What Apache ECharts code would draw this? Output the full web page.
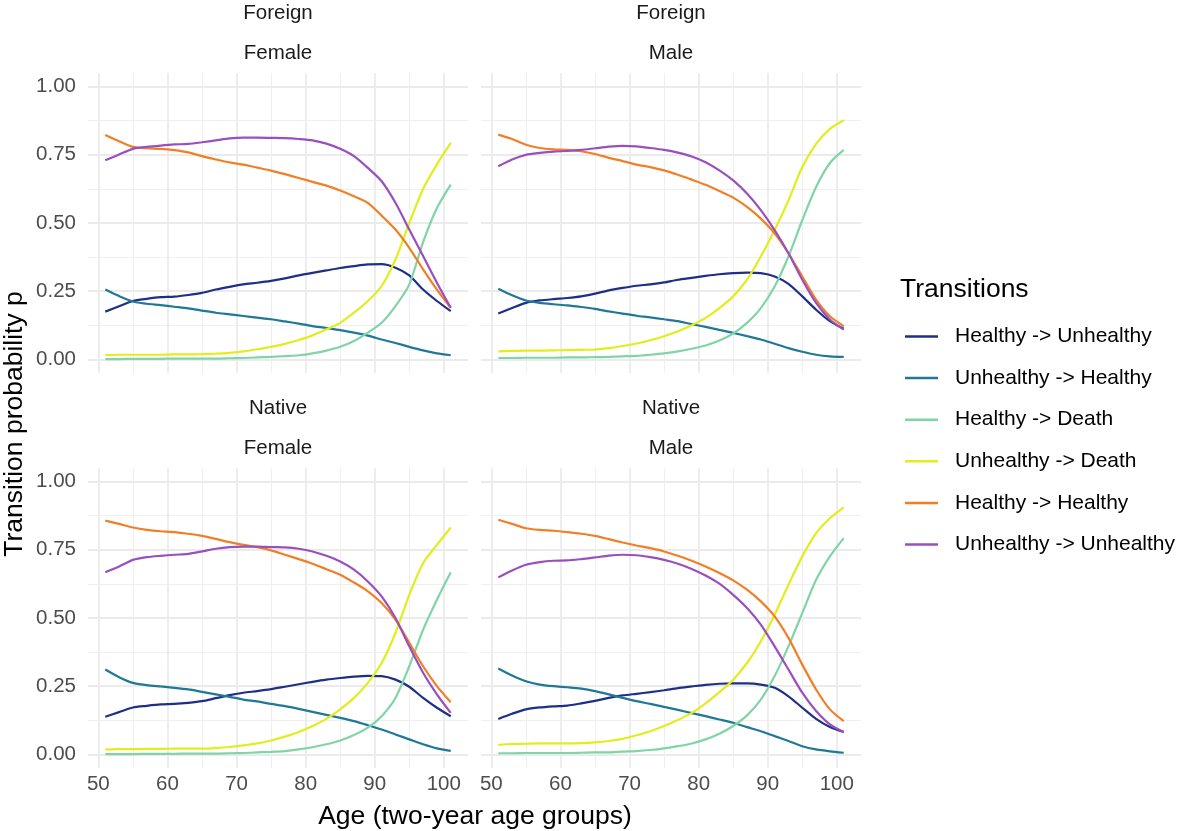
<!DOCTYPE html>
<html>
<head>
    <meta charset="utf-8">
    <title>Transition probabilities by age</title>
    <script src="https://cdn.jsdelivr.net/npm/echarts@6/dist/echarts.min.js"></script>
    <style>
        html, body { margin: 0; padding: 0; background: #fff; }
        #chart-container { width: 1178px; height: 831px; }
    </style>
</head>
<body>
<div id="chart-container"></div>

<script>
    // ages (two-year age groups)
    var ages = [51, 53, 55, 57, 59, 61, 63, 65, 67, 69, 71, 73, 75, 77, 79, 81, 83, 85, 87, 89, 91, 93, 95, 97, 99, 101];

    var transitions = ['Healthy -> Unhealthy', 'Unhealthy -> Healthy', 'Healthy -> Death',
                       'Unhealthy -> Death', 'Healthy -> Healthy', 'Unhealthy -> Unhealthy'];
    var lineColors = ['#1e2f86', '#1f7896', '#80d4a8', '#e2ee1c', '#f07f26', '#9a4fbf'];

    var xMajor = [50, 60, 70, 80, 90, 100];
    var xMinor = [55, 65, 75, 85, 95];
    var yMajor = [0, 0.25, 0.5, 0.75, 1];
    var yMinor = [0.125, 0.375, 0.625, 0.875];

    // Foreign / Female
    var foreignFemaleHU = [0.175,0.195,0.214,0.222,0.228,0.230,0.236,0.244,0.256,0.266,0.275,0.281,0.288,0.297,0.308,0.317,0.326,0.335,0.342,0.348,0.349,0.336,0.308,0.256,0.214,0.177];
    var foreignFemaleUH = [0.256,0.232,0.212,0.204,0.199,0.193,0.187,0.179,0.171,0.165,0.159,0.153,0.147,0.139,0.131,0.122,0.115,0.107,0.098,0.087,0.073,0.060,0.046,0.033,0.022,0.015];
    var foreignFemaleHD = [0.001,0.001,0.002,0.002,0.002,0.003,0.003,0.003,0.003,0.004,0.005,0.007,0.009,0.012,0.015,0.022,0.032,0.046,0.067,0.098,0.134,0.195,0.275,0.430,0.555,0.641];
    var foreignFemaleUD = [0.016,0.017,0.017,0.017,0.017,0.018,0.018,0.019,0.021,0.024,0.029,0.037,0.046,0.057,0.071,0.088,0.110,0.134,0.171,0.214,0.269,0.366,0.500,0.625,0.715,0.794];
    var foreignFemaleHH = [0.823,0.800,0.779,0.774,0.772,0.767,0.759,0.745,0.733,0.722,0.714,0.703,0.692,0.679,0.665,0.651,0.637,0.619,0.598,0.574,0.527,0.476,0.409,0.330,0.256,0.189];
    var foreignFemaleUU = [0.730,0.751,0.772,0.779,0.784,0.788,0.790,0.796,0.803,0.810,0.813,0.813,0.812,0.811,0.808,0.803,0.791,0.772,0.745,0.702,0.653,0.574,0.476,0.379,0.281,0.189];

    // Foreign / Male
    var foreignMaleHU = [0.168,0.188,0.207,0.216,0.221,0.225,0.231,0.241,0.253,0.262,0.270,0.275,0.282,0.292,0.299,0.306,0.312,0.316,0.318,0.316,0.304,0.277,0.231,0.182,0.140,0.112];
    var foreignMaleUH = [0.259,0.235,0.216,0.207,0.202,0.198,0.192,0.185,0.176,0.168,0.160,0.154,0.147,0.140,0.129,0.119,0.108,0.097,0.085,0.073,0.057,0.041,0.028,0.017,0.011,0.009];
    var foreignMaleHD = [0.005,0.005,0.006,0.006,0.006,0.007,0.007,0.008,0.009,0.011,0.013,0.017,0.022,0.029,0.039,0.051,0.069,0.095,0.134,0.188,0.267,0.377,0.510,0.632,0.720,0.768];
    var foreignMaleUD = [0.029,0.031,0.032,0.032,0.033,0.034,0.035,0.036,0.041,0.049,0.058,0.070,0.085,0.103,0.125,0.152,0.188,0.231,0.292,0.377,0.474,0.583,0.705,0.790,0.845,0.877];
    var foreignMaleHH = [0.824,0.808,0.787,0.775,0.770,0.768,0.763,0.753,0.739,0.727,0.714,0.705,0.693,0.677,0.659,0.640,0.617,0.593,0.559,0.516,0.462,0.389,0.304,0.219,0.158,0.122];
    var foreignMaleUU = [0.708,0.733,0.750,0.757,0.762,0.764,0.768,0.774,0.780,0.783,0.781,0.775,0.768,0.758,0.744,0.723,0.693,0.656,0.608,0.547,0.474,0.389,0.292,0.207,0.146,0.109];

    // Native / Female
    var nativeFemaleHU = [0.138,0.155,0.172,0.178,0.183,0.185,0.189,0.195,0.206,0.217,0.226,0.232,0.239,0.248,0.257,0.266,0.274,0.280,0.285,0.288,0.287,0.274,0.248,0.207,0.171,0.140];
    var nativeFemaleUH = [0.311,0.283,0.262,0.254,0.249,0.244,0.238,0.229,0.220,0.211,0.201,0.194,0.185,0.177,0.167,0.156,0.145,0.134,0.122,0.107,0.091,0.073,0.055,0.037,0.022,0.013];
    var nativeFemaleHD = [0.001,0.001,0.001,0.002,0.002,0.002,0.003,0.003,0.003,0.004,0.005,0.007,0.009,0.012,0.018,0.026,0.037,0.051,0.071,0.098,0.140,0.207,0.323,0.457,0.567,0.668];
    var nativeFemaleUD = [0.018,0.019,0.019,0.020,0.020,0.021,0.021,0.021,0.023,0.027,0.033,0.040,0.051,0.065,0.082,0.104,0.130,0.165,0.207,0.262,0.335,0.445,0.585,0.701,0.768,0.832];
    var nativeFemaleHH = [0.857,0.845,0.832,0.823,0.818,0.815,0.809,0.801,0.790,0.778,0.768,0.760,0.748,0.732,0.716,0.699,0.679,0.659,0.630,0.598,0.555,0.494,0.409,0.323,0.250,0.191];
    var nativeFemaleUU = [0.668,0.689,0.713,0.723,0.728,0.732,0.735,0.744,0.754,0.760,0.762,0.762,0.760,0.759,0.754,0.744,0.728,0.707,0.677,0.634,0.579,0.500,0.396,0.299,0.220,0.152];

    // Native / Male
    var nativeMaleHU = [0.130,0.149,0.165,0.172,0.176,0.179,0.187,0.196,0.207,0.216,0.222,0.228,0.235,0.243,0.249,0.255,0.259,0.260,0.260,0.256,0.244,0.213,0.171,0.130,0.100,0.082];
    var nativeMaleUH = [0.315,0.289,0.268,0.256,0.250,0.246,0.241,0.232,0.220,0.207,0.195,0.185,0.174,0.163,0.151,0.140,0.128,0.116,0.100,0.085,0.067,0.049,0.030,0.018,0.011,0.006];
    var nativeMaleHD = [0.004,0.004,0.005,0.005,0.005,0.005,0.006,0.007,0.007,0.010,0.012,0.016,0.022,0.030,0.040,0.055,0.076,0.104,0.143,0.201,0.287,0.396,0.518,0.640,0.726,0.793];
    var nativeMaleUD = [0.035,0.038,0.039,0.040,0.040,0.040,0.041,0.044,0.049,0.057,0.070,0.085,0.104,0.126,0.152,0.187,0.228,0.274,0.335,0.415,0.512,0.622,0.726,0.811,0.866,0.906];
    var nativeMaleHH = [0.860,0.845,0.829,0.823,0.820,0.815,0.809,0.801,0.789,0.777,0.766,0.756,0.744,0.728,0.710,0.689,0.665,0.638,0.604,0.561,0.506,0.427,0.329,0.238,0.165,0.122];
    var nativeMaleUU = [0.649,0.674,0.695,0.705,0.710,0.711,0.716,0.722,0.729,0.732,0.730,0.723,0.713,0.699,0.680,0.656,0.626,0.585,0.537,0.476,0.396,0.311,0.226,0.159,0.110,0.082];

    var panels = [
        { origin: 'Foreign', sex: 'Female', left: 88,  top: 73,  values: [foreignFemaleHU, foreignFemaleUH, foreignFemaleHD, foreignFemaleUD, foreignFemaleHH, foreignFemaleUU] },
        { origin: 'Foreign', sex: 'Male',   left: 481, top: 73,  values: [foreignMaleHU, foreignMaleUH, foreignMaleHD, foreignMaleUD, foreignMaleHH, foreignMaleUU] },
        { origin: 'Native',  sex: 'Female', left: 88,  top: 468, values: [nativeFemaleHU, nativeFemaleUH, nativeFemaleHD, nativeFemaleUD, nativeFemaleHH, nativeFemaleUU] },
        { origin: 'Native',  sex: 'Male',   left: 481, top: 468, values: [nativeMaleHU, nativeMaleUH, nativeMaleHD, nativeMaleUD, nativeMaleHH, nativeMaleUU] }
    ];

    var FONT = '"Liberation Sans", Arial, sans-serif';
    var PANEL_W = 380, PANEL_H = 300;

    var grids = [], xAxes = [], yAxes = [], series = [], graphics = [];

    panels.forEach(function (p, i) {
        grids.push({ left: p.left, top: p.top, width: PANEL_W, height: PANEL_H, containLabel: false });

        // major x (labels on bottom row only)
        xAxes.push({
            type: 'value', gridIndex: i, min: 48.5, max: 103.5,
            axisLine: { show: false },
            axisTick: { show: false, customValues: xMajor },
            axisLabel: { show: i >= 2, customValues: xMajor, color: '#4d4d4d', fontSize: 20.5, fontFamily: FONT, margin: 6 },
            splitLine: { show: true, lineStyle: { color: '#ebebeb', width: 1.8 } }
        });
        // minor x
        xAxes.push({
            type: 'value', gridIndex: i, position: 'top', min: 48.5, max: 103.5,
            axisLine: { show: false },
            axisTick: { show: false, customValues: xMinor },
            axisLabel: { show: false, customValues: xMinor },
            splitLine: { show: true, lineStyle: { color: '#efefef', width: 1 } }
        });
        // major y (labels on left column only)
        yAxes.push({
            type: 'value', gridIndex: i, min: -0.05, max: 1.05,
            axisLine: { show: false },
            axisTick: { show: false, customValues: yMajor },
            axisLabel: {
                show: i % 2 === 0, customValues: yMajor, color: '#4d4d4d', fontSize: 20.5, fontFamily: FONT, margin: 12,
                formatter: function (v) { return v.toFixed(2); }
            },
            splitLine: { show: true, lineStyle: { color: '#ebebeb', width: 1.8 } }
        });
        // minor y
        yAxes.push({
            type: 'value', gridIndex: i, position: 'right', min: -0.05, max: 1.05,
            axisLine: { show: false },
            axisTick: { show: false, customValues: yMinor },
            axisLabel: { show: false, customValues: yMinor },
            splitLine: { show: true, lineStyle: { color: '#efefef', width: 1 } }
        });

        transitions.forEach(function (name, k) {
            series.push({
                name: name,
                type: 'line',
                xAxisIndex: 2 * i,
                yAxisIndex: 2 * i,
                symbol: 'none',
                showSymbol: false,
                smooth: 0.25,
                silent: true,
                itemStyle: { color: lineColors[k] },
                lineStyle: { color: lineColors[k], width: 2.2 },
                data: ages.map(function (a, j) { return [a, p.values[k][j]]; })
            });
        });

        // facet strips (two lines)
        var cx = p.left + PANEL_W / 2;
        graphics.push({ type: 'text', x: cx, y: p.top - 60, style: {
            text: p.origin, fill: '#1a1a1a', font: '20.5px ' + FONT,
            textAlign: 'center', textVerticalAlign: 'middle', align: 'center', verticalAlign: 'middle' } });
        graphics.push({ type: 'text', x: cx, y: p.top - 20, style: {
            text: p.sex, fill: '#1a1a1a', font: '20.5px ' + FONT,
            textAlign: 'center', textVerticalAlign: 'middle', align: 'center', verticalAlign: 'middle' } });
    });

    // axis titles and legend title
    graphics.push({ type: 'text', x: 475, y: 817, style: {
        text: 'Age (two-year age groups)', fill: '#000', font: '26.5px ' + FONT,
        textAlign: 'center', textVerticalAlign: 'middle', align: 'center', verticalAlign: 'middle' } });
    graphics.push({ type: 'text', x: 15, y: 424, rotation: Math.PI / 2, style: {
        text: 'Transition probability p', fill: '#000', font: '26.5px ' + FONT,
        textAlign: 'center', textVerticalAlign: 'middle', align: 'center', verticalAlign: 'middle' } });
    graphics.push({ type: 'text', x: 900, y: 290, style: {
        text: 'Transitions', fill: '#000', font: '26.5px ' + FONT,
        textAlign: 'left', textVerticalAlign: 'middle', align: 'left', verticalAlign: 'middle' } });

    var myChart = echarts.init(document.getElementById('chart-container'), null, { renderer: 'canvas' });

    var option = {
        animation: false,
        backgroundColor: '#fff',
        grid: grids,
        xAxis: xAxes,
        yAxis: yAxes,
        legend: {
            data: transitions,
            orient: 'vertical',
            left: 905,
            top: 326,
            padding: 0,
            icon: 'rect',
            itemWidth: 33,
            itemHeight: 2.5,
            itemGap: 20.6,
            selectedMode: false,
            textStyle: { color: '#000', fontSize: 21, fontFamily: FONT, padding: [0, 0, 0, 12] }
        },
        graphic: graphics,
        series: series
    };

    myChart.setOption(option);
</script>
</body>
</html>
